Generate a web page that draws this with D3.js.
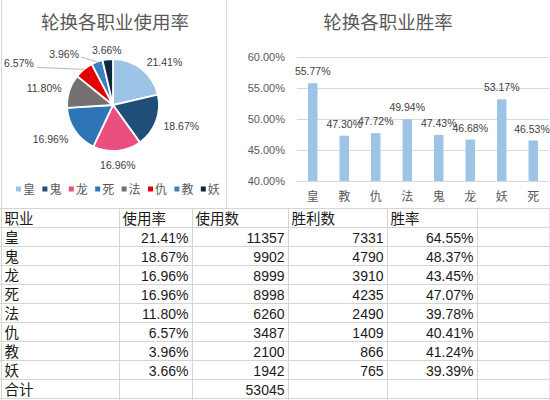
<!DOCTYPE html>
<html><head><meta charset="utf-8">
<script src="https://cdn.jsdelivr.net/npm/d3@7"></script>
<style>
html,body{margin:0;padding:0;background:#fff;}
svg{display:block;}
text{font-family:"Liberation Sans","Noto Sans CJK SC",sans-serif;}
</style></head><body>
<svg id="c" width="550" height="400"></svg>
<script>
// ---- data ----
const pieCats = ["皇","鬼","龙","死","法","仇","教","妖"];
const pieVals = [21.41,18.67,16.96,16.96,11.80,6.57,3.96,3.66];
const pieColors = ["#9dc3e6","#1f4e79","#ea4f80","#2e75b6","#767171","#e50000","#3b7fc0","#0e2841"];

const barCats = ["皇","教","仇","法","鬼","龙","妖","死"];
const barVals = [0.5577,0.4730,0.4772,0.4994,0.4743,0.4668,0.5317,0.4653];
const barTicks = [0.40,0.45,0.50,0.55,0.60];

const tableHeader = ["职业","使用率","使用数","胜利数","胜率"];
const tableJob = ["皇","鬼","龙","死","法","仇","教","妖"];
const tableRate = ["21.41%","18.67%","16.96%","16.96%","11.80%","6.57%","3.96%","3.66%"];
const tableUse = [11357,9902,8999,8998,6260,3487,2100,1942];
const tableWin = [7331,4790,3910,4235,2490,1409,866,765];
const tableWinRate = ["64.55%","48.37%","43.45%","47.07%","39.78%","40.41%","41.24%","39.39%"];
const totalLabel = "合计";
const totalUse = 53045;

const svg = d3.select("#c");
svg.append("rect").attr("width",550).attr("height",400).attr("fill","#fff");
const cjk = '"Noto Sans CJK SC",sans-serif';

// ---- chart frames ----
svg.append("line").attr("x1",226.5).attr("x2",226.5).attr("y1",0).attr("y2",208).attr("stroke","#d9d9d9");
svg.append("line").attr("x1",1.5).attr("x2",1.5).attr("y1",0).attr("y2",400).attr("stroke","#d9d9d9");

// ---- pie ----
const pcx = 113, pcy = 105, pr = 46;
svg.append("text").attr("x",115).attr("y",29).attr("text-anchor","middle")
  .style("font-family",cjk).style("font-size","18.5px").attr("fill","#595959").text("轮换各职业使用率");
const pie = d3.pie().sort(null).value(d=>d)(pieVals);
const arc = d3.arc().innerRadius(0).outerRadius(pr);
const pg = svg.append("g").attr("transform",`translate(${pcx},${pcy})`);
pg.selectAll("path").data(pie).join("path").attr("d",arc)
  .attr("fill",(d,i)=>pieColors[i]).attr("stroke","#fff").attr("stroke-width",1.8);
// labels
const leader = {5:{dx:-50,dy:-6}, 6:{dx:-18,dy:-8}};
pie.forEach((d,i)=>{
  const a = (d.startAngle+d.endAngle)/2;
  const s = Math.sin(a), c = -Math.cos(a);
  const lab = d3.format(".2f")(pieVals[i])+"%";
  if (leader[i]) {
    const ex = pr*s, ey = pr*c;
    const lx = ex + leader[i].dx, ly = ey + leader[i].dy;
    pg.append("polyline").attr("points",`${ex},${ey} ${lx+ (i===5?3:2)},${ly+ (i===5?4:3)}`)
      .attr("fill","none").attr("stroke","#a6a6a6").attr("stroke-width",0.8);
    pg.append("text").attr("x",lx).attr("y",ly+4).attr("text-anchor","end")
      .style("font-size","10.5px").attr("fill","#404040").text(lab);
    return;
  }
  const R = 54;
  const x = R*s, y = R*c;
  const anchor = Math.abs(s)<0.3 ? "middle" : (s>0?"start":"end");
  const yo = c>0 ? 4 + c*6 : 4 + c*1;
  pg.append("text").attr("x",x).attr("y",y+yo).attr("text-anchor",anchor)
    .style("font-size","10.5px").attr("fill","#404040").text(lab);
});
// legend
const lg = svg.append("g");
pieCats.forEach((k,i)=>{
  const x = 16 + i*26.4;
  lg.append("rect").attr("x",x).attr("y",186.5).attr("width",5).attr("height",5).attr("fill",pieColors[i]);
  lg.append("text").attr("x",x+7).attr("y",193.5).style("font-family",cjk)
    .style("font-size","12px").attr("fill","#595959").text(k);
});

// ---- bar chart ----
svg.append("text").attr("x",388).attr("y",29).attr("text-anchor","middle")
  .style("font-family",cjk).style("font-size","18.5px").attr("fill","#595959").text("轮换各职业胜率");
const x = d3.scaleBand().domain(barCats).range([297,549]).paddingInner(0.7).paddingOuter(0.35);
const y = d3.scaleLinear().domain([0.40,0.60]).range([181,57]);
const bg = svg.append("g");
bg.selectAll("line.g").data(barTicks).join("line").attr("class","g")
  .attr("x1",297).attr("x2",549).attr("y1",d=>Math.round(y(d))+0.5).attr("y2",d=>Math.round(y(d))+0.5)
  .attr("stroke","#d9d9d9");
const yAxis = d3.axisLeft(y).tickValues(barTicks).tickFormat(d3.format(".2%")).tickSize(0).tickPadding(12);
const ya = svg.append("g").attr("transform","translate(297,0)").call(yAxis);
ya.select(".domain").remove();
ya.selectAll("text").style("font-size","11px").attr("fill","#595959");
bg.selectAll("rect").data(barVals).join("rect")
  .attr("x",(d,i)=>x(barCats[i])).attr("width",x.bandwidth())
  .attr("y",d=>y(d)).attr("height",d=>y(0.40)-y(d)).attr("fill","#9dc3e6");
bg.selectAll("text.v").data(barVals).join("text").attr("class","v")
  .attr("x",(d,i)=>Math.min(x(barCats[i])+x.bandwidth()/2, 532)).attr("y",d=>y(d)-8)
  .attr("text-anchor","middle").style("font-size","10.5px").attr("fill","#404040")
  .text(d=>d3.format(".2%")(d));
const xAxis = d3.axisBottom(x).tickSize(0).tickPadding(11);
const xa = svg.append("g").attr("transform","translate(0,181)").call(xAxis);
xa.select(".domain").remove();
xa.selectAll("text").style("font-family",cjk).style("font-size","12px").attr("fill","#595959");

// ---- table ----
const colX = [1.5,119.5,192.5,288.5,387.5,477.5,550];
const rowY0 = 208.5, rowH = 19;
const tg = svg.append("g");
tg.append("rect").attr("x",0).attr("y",rowY0).attr("width",550).attr("height",192).attr("fill","#fff");
for (let r=0;r<=10;r++){
  tg.append("line").attr("x1",0).attr("x2",550).attr("y1",rowY0+r*rowH).attr("y2",rowY0+r*rowH).attr("stroke","#d4d4d4");
}
colX.forEach(cx=>tg.append("line").attr("x1",cx).attr("x2",cx).attr("y1",rowY0).attr("y2",400).attr("stroke","#d4d4d4"));
const txt = (col,row,s,align)=>{
  const yy = rowY0 + row*rowH + 15;
  const t = tg.append("text").attr("y",yy).style("font-size","14px").attr("fill","#1a1a1a");
  if (align==="r") t.attr("x",colX[col+1]-4).attr("text-anchor","end");
  else t.attr("x",colX[col]+3).style("font-family",cjk).style("font-size","14.5px");
  t.text(s);
};
tableHeader.forEach((h,i)=>txt(i,0,h,"l"));
tableJob.forEach((j,r)=>{
  txt(0,r+1,j,"l");
  txt(1,r+1,tableRate[r],"r");
  txt(2,r+1,String(tableUse[r]),"r");
  txt(3,r+1,String(tableWin[r]),"r");
  txt(4,r+1,tableWinRate[r],"r");
});
txt(0,9,totalLabel,"l");
txt(2,9,String(totalUse),"r");
</script>
</body></html>
